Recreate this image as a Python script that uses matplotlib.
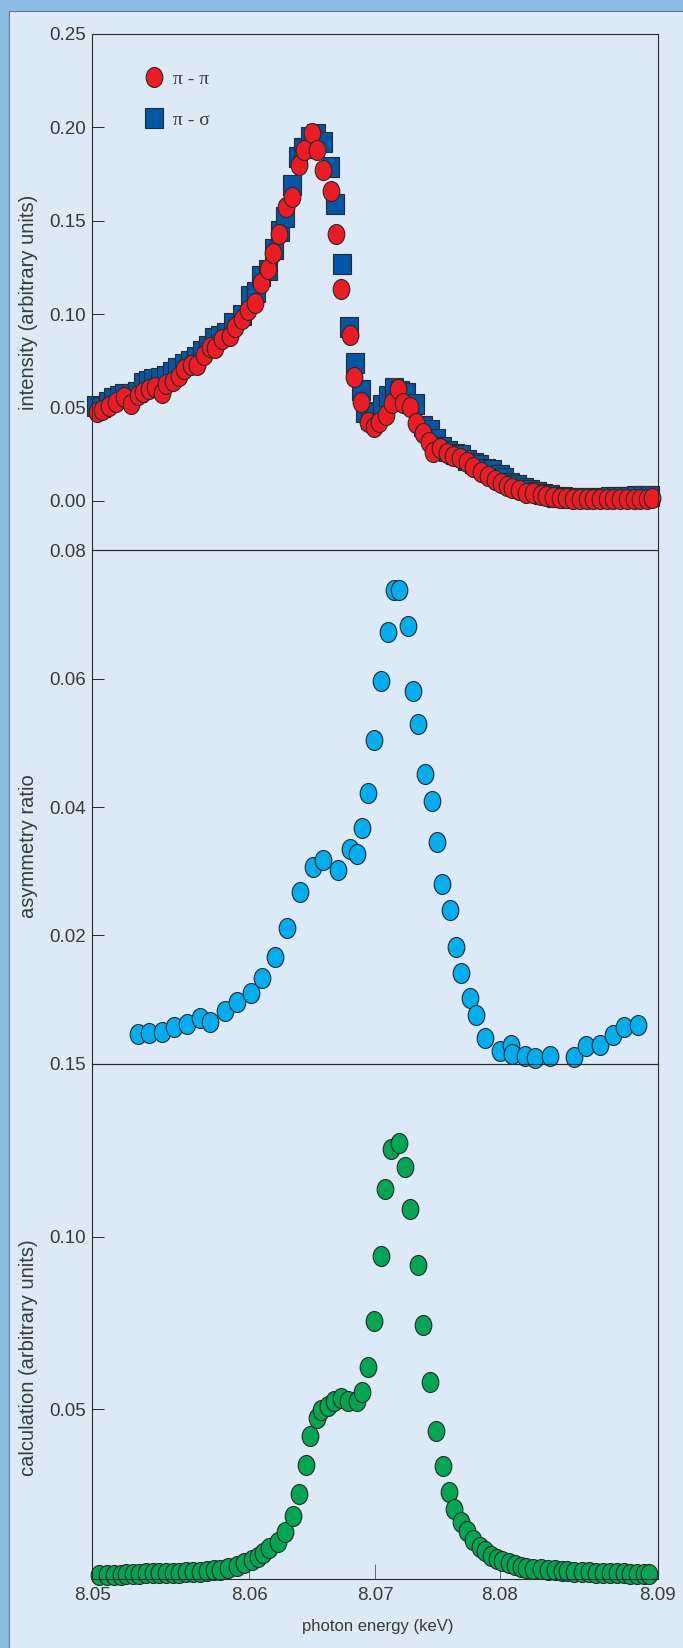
import matplotlib
matplotlib.use("Agg")
import matplotlib.pyplot as plt
from matplotlib.markers import MarkerStyle
from matplotlib.transforms import Affine2D
from matplotlib.lines import Line2D
from matplotlib.patches import Rectangle

plt.rcParams['font.family'] = ['Liberation Sans', 'DejaVu Sans']

# pi - pi (red circles), top panel
red_x = [8.0503, 8.0507, 8.0512, 8.0517, 8.0522, 8.0527, 8.0532, 8.0536, 8.0540, 8.0544,
         8.0549, 8.0552, 8.0557, 8.0561, 8.0565, 8.0570, 8.0574, 8.0579, 8.0583, 8.0587,
         8.0592, 8.0597, 8.0601, 8.0606, 8.0610, 8.0615, 8.0619, 8.0624, 8.0628, 8.0632,
         8.0637, 8.0641, 8.0646, 8.0650, 8.0655, 8.0659, 8.0663, 8.0669, 8.0672, 8.0676,
         8.0682, 8.0685, 8.0690, 8.0695, 8.0699, 8.0703, 8.0708, 8.0712, 8.0716, 8.0720,
         8.0725, 8.0729, 8.0734, 8.0738, 8.0741, 8.0746, 8.0751, 8.0755, 8.0760, 8.0765,
         8.0769, 8.0775, 8.0780, 8.0785, 8.0789, 8.0793, 8.0797, 8.0802, 8.0807, 8.0812,
         8.0817, 8.0821, 8.0826, 8.0831, 8.0835, 8.0840, 8.0845, 8.0850, 8.0854, 8.0859,
         8.0864, 8.0868, 8.0873, 8.0878, 8.0883, 8.0887, 8.0892, 8.0896]
red_y = [0.0476, 0.0486, 0.0507, 0.0530, 0.0557, 0.0518, 0.0566, 0.0583, 0.0596, 0.0607,
         0.0575, 0.0625, 0.0643, 0.0668, 0.0703, 0.0726, 0.0726, 0.0780, 0.0824, 0.0819,
         0.0864, 0.0882, 0.0931, 0.0971, 0.1021, 0.1060, 0.1164, 0.1239, 0.1328, 0.1428,
         0.1574, 0.1627, 0.1797, 0.1877, 0.1970, 0.1877, 0.1770, 0.1659, 0.1431, 0.1132,
         0.0887, 0.0664, 0.0530, 0.0423, 0.0396, 0.0423, 0.0459, 0.0521, 0.0596, 0.0521,
         0.0500, 0.0418, 0.0361, 0.0316, 0.0262, 0.0280, 0.0257, 0.0239, 0.0227, 0.0209,
         0.0182, 0.0155, 0.0132, 0.0111, 0.0096, 0.0079, 0.0066, 0.0057, 0.0043, 0.0040,
         0.0031, 0.0025, 0.0021, 0.0016, 0.0013, 0.0009, 0.0007, 0.0007, 0.0009, 0.0009,
         0.0009, 0.0009, 0.0011, 0.0011, 0.0011, 0.0011, 0.0011, 0.0013]

# pi - sigma (blue squares), top panel
blue_x = [8.05025, 8.05061, 8.05110, 8.05146, 8.05188, 8.05224, 8.05273, 8.05316, 8.05358, 8.05393,
          8.05429, 8.05478, 8.05521, 8.05563, 8.05598, 8.05648, 8.05690, 8.05733, 8.05775, 8.05818,
          8.05860, 8.05903, 8.05945, 8.05995, 8.06058, 8.06115, 8.06157, 8.06193, 8.06242, 8.06285,
          8.06327, 8.06362, 8.06412, 8.06454, 8.06490, 8.06539, 8.06582, 8.06632, 8.06681, 8.06716,
          8.06766, 8.06815, 8.06857, 8.06900, 8.06928, 8.06964, 8.06999, 8.07048, 8.07091, 8.07133,
          8.07176, 8.07218, 8.07282, 8.07338, 8.07388, 8.07430, 8.07473, 8.07515, 8.07565, 8.07607,
          8.07650, 8.07699, 8.07735, 8.07784, 8.07827, 8.07883, 8.07912, 8.07954, 8.08004, 8.08053,
          8.08096, 8.08145, 8.08188, 8.08237, 8.08280, 8.08329, 8.08379, 8.08421, 8.08471, 8.08520,
          8.08563, 8.08612, 8.08662, 8.08704, 8.08754, 8.08803, 8.08846, 8.08895, 8.08944]
blue_y = [0.0510, 0.0500, 0.0530, 0.0550, 0.0560, 0.0570, 0.0570, 0.0580, 0.0630, 0.0640,
          0.0650, 0.0660, 0.0670, 0.0690, 0.0710, 0.0730, 0.0750, 0.0770, 0.0800, 0.0830,
          0.0870, 0.0880, 0.0900, 0.0950, 0.0994, 0.1096, 0.1120, 0.1206, 0.1237, 0.1350,
          0.1445, 0.1520, 0.1690, 0.1840, 0.1890, 0.1950, 0.1963, 0.1920, 0.1786, 0.1590,
          0.1269, 0.0933, 0.0737, 0.0594, 0.0476, 0.0440, 0.0471, 0.0514, 0.0560, 0.0605,
          0.0590, 0.0575, 0.0518, 0.0400, 0.0378, 0.0330, 0.0287, 0.0266, 0.0252, 0.0243,
          0.0218, 0.0200, 0.0191, 0.0168, 0.0164, 0.0140, 0.0120, 0.0093, 0.0086, 0.0070,
          0.0059, 0.0047, 0.0038, 0.0030, 0.0020, 0.0018, 0.0015, 0.0013, 0.0013, 0.0014,
          0.0015, 0.0017, 0.0018, 0.0020, 0.0021, 0.0022, 0.0024, 0.0026, 0.0027]

# asymmetry ratio, middle panel
asym_x = [8.0532, 8.0540, 8.0549, 8.0558, 8.0567, 8.0576, 8.0583, 8.0594, 8.0602, 8.0612,
          8.0620, 8.0629, 8.0638, 8.0647, 8.0656, 8.0663, 8.0674, 8.0682, 8.0687, 8.0691,
          8.0695, 8.0699, 8.0704, 8.0709, 8.0713, 8.0717, 8.0723, 8.0727, 8.0730, 8.0735,
          8.0740, 8.0744, 8.0747, 8.0753, 8.0757, 8.0761, 8.0767, 8.0771, 8.0778, 8.0788,
          8.0796, 8.0797, 8.0806, 8.0813, 8.0824, 8.0841, 8.0849, 8.0859, 8.0868, 8.0876,
          8.0886]
asym_y = [0.0046, 0.0049, 0.0050, 0.0058, 0.0062, 0.0071, 0.0065, 0.0082, 0.0096, 0.0111,
          0.0134, 0.0167, 0.0211, 0.0267, 0.0306, 0.0318, 0.0302, 0.0334, 0.0327, 0.0368,
          0.0422, 0.0505, 0.0596, 0.0672, 0.0737, 0.0737, 0.0681, 0.0581, 0.0529, 0.0451,
          0.0409, 0.0345, 0.0280, 0.0240, 0.0182, 0.0142, 0.0103, 0.0076, 0.0040, 0.0021,
          0.0030, 0.0015, 0.0013, 0.0010, 0.0013, 0.0011, 0.0028, 0.0030, 0.0045, 0.0058,
          0.0061]

# calculation, bottom panel
calc_x = [8.0505, 8.0510, 8.0515, 8.0520, 8.0524, 8.0529, 8.0533, 8.0538, 8.0543, 8.0547,
          8.0552, 8.0557, 8.0561, 8.0566, 8.0571, 8.0576, 8.0581, 8.0586, 8.0590, 8.0596,
          8.0602, 8.0607, 8.0613, 8.0617, 8.0621, 8.0625, 8.0631, 8.0636, 8.0642, 8.0646,
          8.0651, 8.0654, 8.0659, 8.0662, 8.0667, 8.0671, 8.0676, 8.0681, 8.0687, 8.0691,
          8.0695, 8.0699, 8.0704, 8.0707, 8.0711, 8.0717, 8.0721, 8.0725, 8.0730, 8.0734,
          8.0739, 8.0743, 8.0748, 8.0752, 8.0756, 8.0761, 8.0765, 8.0769, 8.0774, 8.0778,
          8.0782, 8.0786, 8.0790, 8.0795, 8.0799, 8.0803, 8.0807, 8.0812, 8.0817, 8.0822,
          8.0827, 8.0832, 8.0836, 8.0841, 8.0846, 8.0851, 8.0856, 8.0861, 8.0866, 8.0871,
          8.0876, 8.0880, 8.0885, 8.0890, 8.0894]
calc_y = [0.0020, 0.0020, 0.0022, 0.0022, 0.0023, 0.0023, 0.0024, 0.0025, 0.0025, 0.0025,
          0.0026, 0.0027, 0.0027, 0.0028, 0.0029, 0.0030, 0.0031, 0.0034, 0.0036, 0.0041,
          0.0047, 0.0054, 0.0063, 0.0072, 0.0085, 0.0099, 0.0117, 0.0145, 0.0190, 0.0255,
          0.0338, 0.0424, 0.0476, 0.0498, 0.0509, 0.0525, 0.0533, 0.0523, 0.0525, 0.0549,
          0.0623, 0.0755, 0.0943, 0.1139, 0.1255, 0.1272, 0.1201, 0.1079, 0.0918, 0.0745,
          0.0579, 0.0438, 0.0335, 0.0262, 0.0213, 0.0175, 0.0147, 0.0123, 0.0103, 0.0090,
          0.0077, 0.0068, 0.0060, 0.0054, 0.0049, 0.0045, 0.0041, 0.0039, 0.0037, 0.0035,
          0.0034, 0.0033, 0.0031, 0.0030, 0.0029, 0.0028, 0.0027, 0.0027, 0.0026, 0.0025,
          0.0025, 0.0024, 0.0024, 0.0023, 0.0023]

# tick marks as printed (the inner ones are not evenly spaced in the original)
x_tick_pos = [8.05, 8.0611, 8.0700, 8.0788, 8.09]
x_tick_lab = ['8.05', '8.06', '8.07', '8.08', '8.09']
top_ticks = [0.00, 0.05, 0.10, 0.15, 0.20, 0.25]
mid_ticks = [0.02, 0.04, 0.06, 0.08]
bot_ticks = [0.05, 0.10, 0.15]

OUTER = '#8bbde5'
INNER = '#dce9f6'
TXT = '#3a3a3a'
RED = '#ed1c24'
DBLUE = '#0057a6'
CYAN = '#00aeef'
GREEN = '#00a651'
EDGE = '#2a2a2a'

# markers in the original are slightly taller than wide
oval = MarkerStyle('o', transform=Affine2D().scale(1.0, 1.2))
box = MarkerStyle('s', transform=Affine2D().scale(1.0, 1.2))

fig = plt.figure(figsize=(6.83, 16.48), dpi=100)
fig.patch.set_facecolor(OUTER)
fig.add_artist(Rectangle((9 / 683, -0.01), 1.0, 1 - 11 / 1648 + 0.01,
                         transform=fig.transFigure, facecolor=INNER,
                         edgecolor='#6b7580', linewidth=0.8, zorder=0))

left, width = 92.4 / 683, 565.5 / 683
ax1 = fig.add_axes([left, 0.66626, width, 0.31311])
ax2 = fig.add_axes([left, 0.35437, width, 0.31189])
ax3 = fig.add_axes([left, 0.04187, width, 0.31250])


def style(ax):
    ax.set_facecolor('none')
    ax.set_xlim(8.05, 8.09)
    for s in ax.spines.values():
        s.set_color(EDGE)
        s.set_linewidth(0.8)
    ax.tick_params(axis='y', direction='in', length=8.8, width=0.7, color=EDGE,
                   labelsize=13.5, labelcolor=TXT, pad=4.5)
    ax.tick_params(axis='x', direction='in', length=7, width=0.6, color='#555555',
                   labelsize=13.5, labelcolor=TXT, pad=6)


for ax in (ax1, ax2, ax3):
    style(ax)

kw = dict(linestyle='none', markeredgecolor=EDGE, markeredgewidth=0.8, clip_on=False)

ax1.plot(blue_x, blue_y, marker=box, markersize=12.3, markerfacecolor=DBLUE, **kw)
ax1.plot(red_x, red_y, marker=oval, markersize=12.0, markerfacecolor=RED, **kw)
ax1.set_ylim(-0.0264, 0.25)
ax1.set_yticks(top_ticks)
ax1.set_yticklabels(['%.2f' % t for t in top_ticks])
ax1.set_xticks([])

handles = [Line2D([], [], linestyle='none', marker=oval, markersize=12.0,
                  markerfacecolor=RED, markeredgecolor=EDGE, markeredgewidth=0.8),
           Line2D([], [], linestyle='none', marker=box, markersize=12.3,
                  markerfacecolor=DBLUE, markeredgecolor=EDGE, markeredgewidth=0.8)]
ax1.legend(handles, ['\u03c0 - \u03c0', '\u03c0 - \u03c3'], loc='upper left',
           bbox_to_anchor=(0.074, 0.948), frameon=False, borderpad=0,
           handlelength=1.0, handletextpad=0.5, labelspacing=1.2,
           prop={'family': ['Liberation Serif', 'DejaVu Serif'], 'size': 14},
           labelcolor=TXT)

ax2.plot(asym_x, asym_y, marker=oval, markersize=12.0, markerfacecolor=CYAN, **kw)
ax2.set_ylim(0, 0.08)
ax2.set_yticks(mid_ticks)
ax2.set_yticklabels(['%.2f' % t for t in mid_ticks])
ax2.set_xticks([])

ax3.plot(calc_x, calc_y, marker=oval, markersize=12.0, markerfacecolor=GREEN, **kw)
ax3.set_ylim(0.0009, 0.15)
ax3.set_yticks(bot_ticks)
ax3.set_yticklabels(['%.2f' % t for t in bot_ticks])
ax3.set_xticks(x_tick_pos)
ax3.set_xticklabels(x_tick_lab)
# the centre tick is drawn longer in the original
ax3.xaxis.get_major_ticks()[2].tick1line.set_markersize(11)
ax3.xaxis.get_major_ticks()[2].tick1line.set_color(EDGE)

fig.text(29 / 683, 1 - 302 / 1648, 'intensity (arbitrary units)', rotation=90,
         ha='center', va='center', fontsize=14.5, color=TXT)
fig.text(29 / 683, 1 - 846 / 1648, 'asymmetry ratio', rotation=90,
         ha='center', va='center', fontsize=14.5, color=TXT)
fig.text(29 / 683, 1 - 1358 / 1648, 'calculation (arbitrary units)', rotation=90,
         ha='center', va='center', fontsize=14.5, color=TXT)
fig.text(378 / 683, 1 - 1627 / 1648, 'photon energy (keV)',
         ha='center', va='center', fontsize=12, color=TXT)

fig.savefig('out.png', dpi=100, facecolor=fig.get_facecolor())
